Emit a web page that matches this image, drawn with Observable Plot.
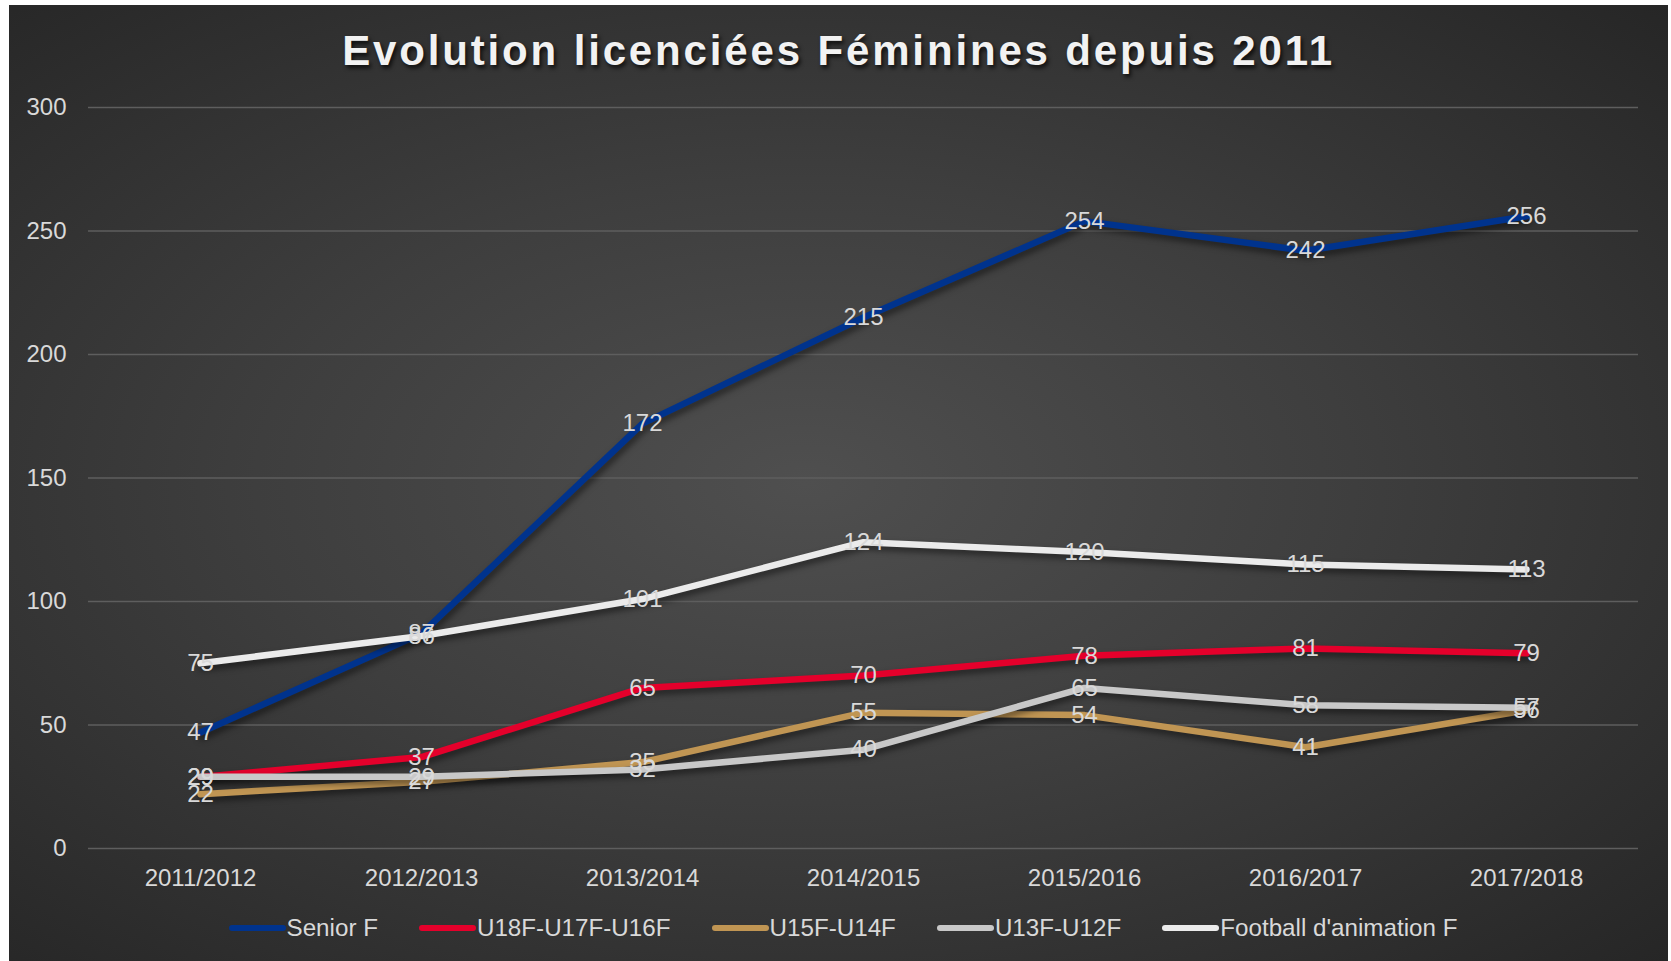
<!DOCTYPE html>
<html>
<head>
<meta charset="utf-8">
<script src="https://cdn.jsdelivr.net/npm/d3@7"></script>
<script src="https://cdn.jsdelivr.net/npm/@observablehq/plot@0.6"></script>
<style>
  html, body { margin: 0; padding: 0; background: #ffffff; }
  #box {
    position: absolute; left: 9px; top: 5px; width: 1659px; height: 956px;
    background: radial-gradient(ellipse farthest-corner at 48% 50%, #4f4f4f 0%, #3e3e3e 45%, #262626 100%);
    overflow: hidden;
    font-family: "Liberation Sans", Arial, sans-serif;
  }
  #title {
    position: absolute; left: 0; top: 21px; width: 100%; text-align: center;
    font-size: 42px; line-height: 50px; font-weight: bold; letter-spacing: 2.85px;
    color: #f2f2f2; text-shadow: 2px 3px 4px rgba(0,0,0,0.75);
  }
  #chart { position: absolute; left: 0; top: 85px; }
  #chart svg g[aria-label="line"] path { filter: drop-shadow(2px 4px 3px rgba(0,0,0,0.5)); }
  #legend {
    position: absolute; left: 0; top: 907px; width: 100%; height: 32px;
    display: flex; justify-content: center; align-items: center; gap: 41px;
    font-size: 24.2px; color: #d9d9d9; padding-left: 9px; box-sizing: border-box;
  }
  .item { display: flex; align-items: center; white-space: nowrap; }
  .sw { display: inline-block; width: 57px; height: 6px; border-radius: 3px; margin-right: 1px; }
</style>
</head>
<body>
<div id="box">
  <div id="title">Evolution licenciées Féminines depuis 2011</div>
  <div id="chart"></div>
  <div id="legend"></div>
</div>
<script>
const categories = ["2011/2012", "2012/2013", "2013/2014", "2014/2015", "2015/2016", "2016/2017", "2017/2018"];
const seriesNames = ["Senior F", "U18F-U17F-U16F", "U15F-U14F", "U13F-U12F", "Football d'animation F"];
const seniorF = [47, 87, 172, 215, 254, 242, 256];
const u18F = [29, 37, 65, 70, 78, 81, 79];
const u15F = [22, 27, 35, 55, 54, 41, 56];
const u13F = [29, 29, 32, 40, 65, 58, 57];
const animationF = [75, 86, 101, 124, 120, 115, 113];
const seriesColors = ["#00338d", "#e4002b", "#c09553", "#c8c8c8", "#ebebeb"];
const yTicks = [0, 50, 100, 150, 200, 250, 300];

const seriesValues = [seniorF, u18F, u15F, u13F, animationF];
const data = [];
seriesNames.forEach((name, i) => {
  categories.forEach((c, j) => data.push({series: name, season: c, value: seriesValues[i][j]}));
});

const plot = Plot.plot({
  width: 1659,
  height: 808,
  marginTop: 17,
  marginBottom: 50,
  marginLeft: 79,
  marginRight: 30,
  style: {background: "transparent", color: "#d9d9d9", fontFamily: "'Liberation Sans', Arial, sans-serif", fontSize: "24px"},
  x: {type: "point", domain: categories, padding: 0.5, label: null, tickSize: 0, tickPadding: 20},
  y: {domain: [0, 300], ticks: yTicks, label: null, tickSize: 0, tickPadding: 22},
  color: {domain: seriesNames, range: seriesColors},
  marks: [
    Plot.ruleY(yTicks, {stroke: "#5e5e5e", strokeWidth: 1.3}),
    Plot.line(data, {x: "season", y: "value", z: "series", stroke: "series", strokeWidth: 6.5, strokeLinejoin: "round", strokeLinecap: "round"}),
    Plot.text(data, {x: "season", y: "value", text: d => String(d.value), fill: "#d9d9d9", fontSize: 24})
  ]
});
document.getElementById("chart").appendChild(plot);

const legend = document.getElementById("legend");
seriesNames.forEach((name, i) => {
  const item = document.createElement("div");
  item.className = "item";
  const sw = document.createElement("span");
  sw.className = "sw";
  sw.style.background = seriesColors[i];
  const t = document.createElement("span");
  t.textContent = name;
  item.appendChild(sw);
  item.appendChild(t);
  legend.appendChild(item);
});
</script>
</body>
</html>
